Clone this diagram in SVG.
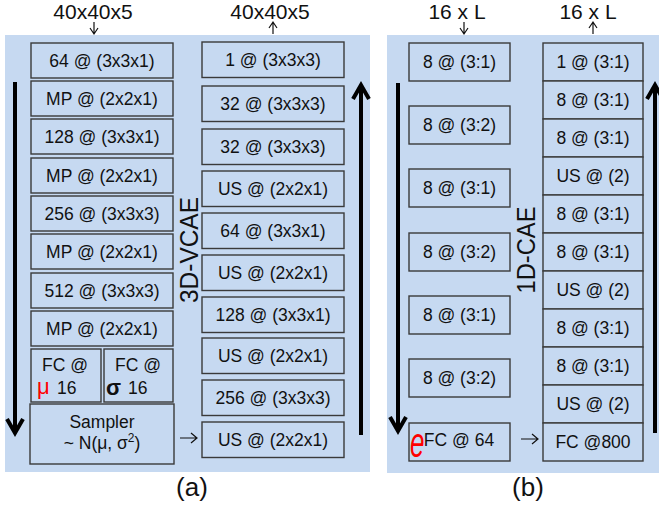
<svg xmlns="http://www.w3.org/2000/svg" width="659" height="506" viewBox="0 0 659 506">
<style>
.bg{fill:#c6d9f1;stroke:none}
.box{fill:#c6d9f1;stroke:#3a3a3a;stroke-width:1.4}
text{font-family:"Liberation Sans",Arial,sans-serif;fill:#111}
.t{font-size:17.5px;text-anchor:middle}
.top{font-size:21px;text-anchor:middle}
.ttl{font-size:26px;text-anchor:middle}
.cap{font-size:26px;text-anchor:middle}
.big{fill:none;stroke:#000;stroke-width:4}
.thin{fill:none;stroke:#111;stroke-width:1.2}
</style>
<rect class="bg" x="5" y="35" width="365" height="437"/>
<rect class="bg" x="387" y="35" width="272" height="438"/>

<g id="labels">
<text class="top" x="93" y="19">40x40x5</text>
<text class="top" x="270" y="19">40x40x5</text>
<text class="top" x="457" y="19">16 x L</text>
<text class="top" x="588" y="19">16 x L</text>
<text class="ttl" transform="translate(198,250) rotate(-90)" textLength="106" lengthAdjust="spacingAndGlyphs">3D-VCAE</text>
<text class="ttl" transform="translate(535,250) rotate(-90)" textLength="87" lengthAdjust="spacingAndGlyphs">1D-CAE</text>
<text class="cap" x="192" y="496">(a)</text>
<text class="cap" x="528" y="496">(b)</text>
</g>

<g id="connectors">
<path class="thin" d="M94 22V34M90 28L94 34L98 28"/>
<path class="thin" d="M273 34V22M269 28L273 22L277 28"/>
<path class="thin" d="M464 22V34M460 28L464 34L468 28"/>
<path class="thin" d="M593 34V22M589 28L593 22L597 28"/>
<path class="thin" d="M180 438H197M191 433L197 438L191 443"/>
<path class="thin" d="M521 439H538M532 434L538 439L532 444"/>
<path class="big" d="M15 82V433M7 419L15 433L23 419"/>
<path class="big" d="M361 435V85M353 99L361 85L369 99"/>
<path class="big" d="M398 83V431M390 417L398 431L406 417"/>
<path class="big" d="M655 433V85M647 99L655 85L663 99"/>
</g>

<g id="enc3d">
<g id="e1"><rect class="box" x="31" y="43" width="142" height="35"/><text class="t" x="102" y="66.5">64 @ (3x3x1)</text></g>
<g id="e2"><rect class="box" x="31" y="81" width="142" height="35"/><text class="t" x="102" y="104.5">MP @ (2x2x1)</text></g>
<g id="e3"><rect class="box" x="31" y="119" width="142" height="35"/><text class="t" x="102" y="142.5">128 @ (3x3x1)</text></g>
<g id="e4"><rect class="box" x="31" y="158" width="142" height="35"/><text class="t" x="102" y="181.5">MP @ (2x2x1)</text></g>
<g id="e5"><rect class="box" x="31" y="196" width="142" height="35"/><text class="t" x="102" y="219.5">256 @ (3x3x3)</text></g>
<g id="e6"><rect class="box" x="31" y="234" width="142" height="35"/><text class="t" x="102" y="257.5">MP @ (2x2x1)</text></g>
<g id="e7"><rect class="box" x="31" y="273" width="142" height="35"/><text class="t" x="102" y="296.5">512 @ (3x3x3)</text></g>
<g id="e8"><rect class="box" x="31" y="311" width="142" height="35"/><text class="t" x="102" y="334.5">MP @ (2x2x1)</text></g>
<g id="fcmu"><rect class="box" x="31" y="349" width="70" height="53"/><text class="t" x="65" y="371">FC @</text><text x="37" y="394" style="font-size:22px;fill:#ff0000">μ</text><text x="57" y="394" style="font-size:17.5px">16</text></g>
<g id="fcsig"><rect class="box" x="104" y="349" width="69" height="53"/><text class="t" x="138" y="371">FC @</text><text x="106" y="395" style="font-size:22px;font-weight:bold">σ</text><text x="128" y="394" style="font-size:17.5px">16</text></g>
<g id="sampler"><rect class="box" x="30" y="404" width="144" height="60"/><text class="t" x="102" y="428">Sampler</text><text class="t" x="102" y="449">~ N(μ, σ<tspan dy="-7" style="font-size:12px">2</tspan><tspan dy="7">)</tspan></text></g>
</g>

<g id="dec3d">
<g id="d1"><rect class="box" x="202" y="42" width="142" height="35.5"/><text class="t" x="273" y="66">1 @ (3x3x3)</text></g>
<g id="d2"><rect class="box" x="202" y="86" width="142" height="35.5"/><text class="t" x="273" y="110">32 @ (3x3x3)</text></g>
<g id="d3"><rect class="box" x="202" y="129" width="142" height="35.5"/><text class="t" x="273" y="153">32 @ (3x3x3)</text></g>
<g id="d4"><rect class="box" x="202" y="171" width="142" height="35.5"/><text class="t" x="273" y="195">US @ (2x2x1)</text></g>
<g id="d5"><rect class="box" x="202" y="213" width="142" height="35.5"/><text class="t" x="273" y="237">64 @ (3x3x1)</text></g>
<g id="d6"><rect class="box" x="202" y="255" width="142" height="35.5"/><text class="t" x="273" y="279">US @ (2x2x1)</text></g>
<g id="d7"><rect class="box" x="202" y="297" width="142" height="35.5"/><text class="t" x="273" y="321">128 @ (3x3x1)</text></g>
<g id="d8"><rect class="box" x="202" y="338" width="142" height="35.5"/><text class="t" x="273" y="362">US @ (2x2x1)</text></g>
<g id="d9"><rect class="box" x="202" y="380" width="142" height="35.5"/><text class="t" x="273" y="404">256 @ (3x3x3)</text></g>
<g id="d10"><rect class="box" x="202" y="422" width="142" height="35.5"/><text class="t" x="273" y="446">US @ (2x2x1)</text></g>
</g>

<g id="enc1d">
<g id="b1"><rect class="box" x="409" y="43" width="101" height="38"/><text class="t" x="459.5" y="68">8 @ (3:1)</text></g>
<g id="b2"><rect class="box" x="409" y="106" width="101" height="38"/><text class="t" x="459.5" y="131">8 @ (3:2)</text></g>
<g id="b3"><rect class="box" x="409" y="169" width="101" height="38"/><text class="t" x="459.5" y="194">8 @ (3:1)</text></g>
<g id="b4"><rect class="box" x="409" y="233" width="101" height="38"/><text class="t" x="459.5" y="258">8 @ (3:2)</text></g>
<g id="b5"><rect class="box" x="409" y="296" width="101" height="38"/><text class="t" x="459.5" y="321">8 @ (3:1)</text></g>
<g id="b6"><rect class="box" x="409" y="359" width="101" height="38"/><text class="t" x="459.5" y="384">8 @ (3:2)</text></g>
<g id="b7"><rect class="box" x="409" y="423" width="101" height="38"/><text class="t" x="459" y="446">FC @ 64</text><text transform="translate(410,457) scale(1,1.6)" style="font-size:26px;font-style:italic;fill:#ff0000">e</text></g>
</g>

<g id="dec1d">
<g id="c1"><rect class="box" x="543" y="43" width="100" height="38"/><text class="t" x="593" y="68">1 @ (3:1)</text></g>
<g id="c2"><rect class="box" x="543" y="81" width="100" height="38"/><text class="t" x="593" y="106">8 @ (3:1)</text></g>
<g id="c3"><rect class="box" x="543" y="119" width="100" height="38"/><text class="t" x="593" y="144">8 @ (3:1)</text></g>
<g id="c4"><rect class="box" x="543" y="157" width="100" height="38"/><text class="t" x="593" y="182">US @ (2)</text></g>
<g id="c5"><rect class="box" x="543" y="195" width="100" height="38"/><text class="t" x="593" y="220">8 @ (3:1)</text></g>
<g id="c6"><rect class="box" x="543" y="233" width="100" height="38"/><text class="t" x="593" y="258">8 @ (3:1)</text></g>
<g id="c7"><rect class="box" x="543" y="271" width="100" height="38"/><text class="t" x="593" y="296">US @ (2)</text></g>
<g id="c8"><rect class="box" x="543" y="309" width="100" height="38"/><text class="t" x="593" y="334">8 @ (3:1)</text></g>
<g id="c9"><rect class="box" x="543" y="347" width="100" height="38"/><text class="t" x="593" y="372">8 @ (3:1)</text></g>
<g id="c10"><rect class="box" x="543" y="385" width="100" height="38"/><text class="t" x="593" y="410">US @ (2)</text></g>
<g id="c11"><rect class="box" x="543" y="423" width="100" height="38"/><text class="t" x="593" y="448">FC @800</text></g>
</g>
</svg>
